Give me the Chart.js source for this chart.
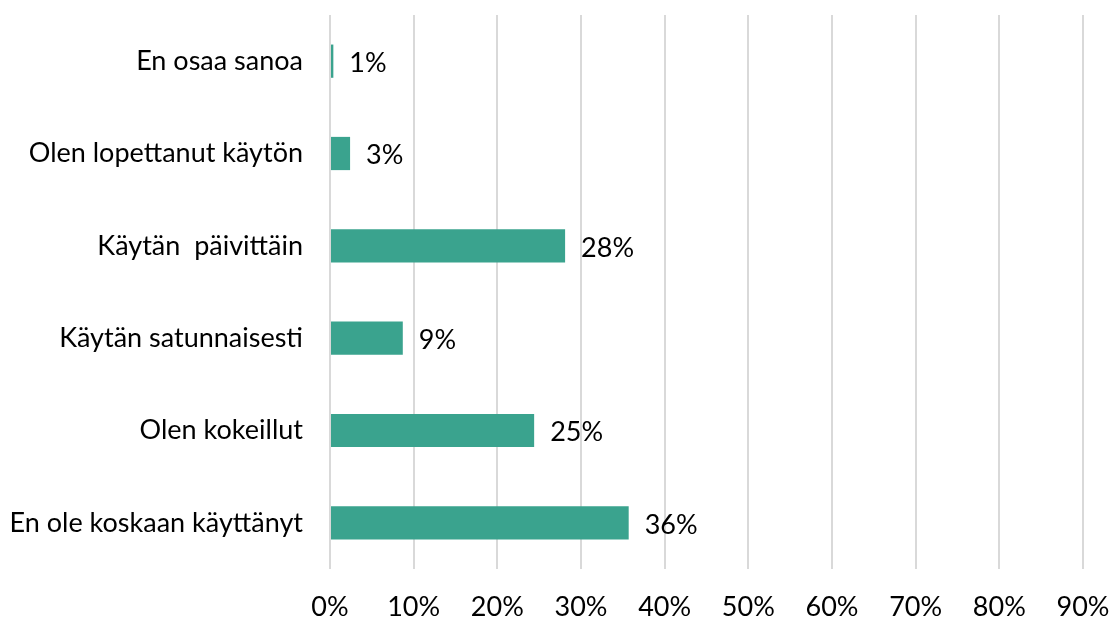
<!DOCTYPE html>
<html>
<head>
<meta charset="utf-8">
<script src="https://cdn.jsdelivr.net/npm/chart.js"></script>
<style>
  body { margin: 0; background: #fff; }
  #wrap { width: 1114px; height: 621px; }
</style>
</head>
<body>
<div id="wrap"><canvas id="c"></canvas></div>
<script>
const categories = [
  "En osaa sanoa",
  "Olen lopettanut käytön",
  "Käytän  päivittäin",
  "Käytän satunnaisesti",
  "Olen kokeillut",
  "En ole koskaan käyttänyt"
];
const values = [0.4, 2.4, 28.1, 8.7, 24.4, 35.7];
const valueLabels = ["1%", "3%", "28%", "9%", "25%", "36%"];
const xTicks = [0, 10, 20, 30, 40, 50, 60, 70, 80, 90];

const font = "Lato";
const fontSize = 27;

// draws the % label just right of each bar
const barLabels = {
  id: "barLabels",
  afterDatasetsDraw(chart) {
    const ctx = chart.ctx;
    ctx.save();
    ctx.font = fontSize + "px " + font;
    ctx.fillStyle = "#000";
    ctx.textBaseline = "middle";
    ctx.textAlign = "left";
    chart.getDatasetMeta(0).data.forEach((bar, i) => {
      ctx.fillText(valueLabels[i], bar.x + 16, bar.y + 2);
    });
    ctx.restore();
  }
};

new Chart(document.getElementById("c"), {
  type: "bar",
  data: {
    labels: categories,
    datasets: [{
      data: values,
      backgroundColor: "#3AA38E",
      borderWidth: 0,
      categoryPercentage: 1,
      barPercentage: 0.36
    }]
  },
  plugins: [barLabels],
  options: {
    indexAxis: "y",
    responsive: true,
    maintainAspectRatio: false,
    animation: false,
    layout: { padding: { top: 15, right: 31, left: 0, bottom: 0 } },
    plugins: {
      legend: { display: false },
      tooltip: { enabled: false }
    },
    scales: {
      x: {
        min: 0,
        max: 90,
        afterBuildTicks(axis) {
          axis.ticks = xTicks.map(v => ({ value: v }));
        },
        afterFit(axis) {
          axis.height = 52;
          axis.paddingLeft = 0;
          axis.paddingRight = 0;
        },
        grid: { color: "#d9d9d9", lineWidth: 2, drawTicks: false },
        border: { display: false },
        ticks: {
          padding: 22,
          color: "#000",
          font: { family: font, size: fontSize },
          callback: v => v + "%"
        }
      },
      y: {
        afterFit(axis) {
          axis.width = 330;
          axis.paddingTop = 0;
          axis.paddingBottom = 0;
        },
        grid: { display: false },
        border: { display: false },
        ticks: {
          padding: 19,
          color: "#000",
          font: { family: font, size: fontSize }
        }
      }
    }
  }
});
</script>
</body>
</html>
